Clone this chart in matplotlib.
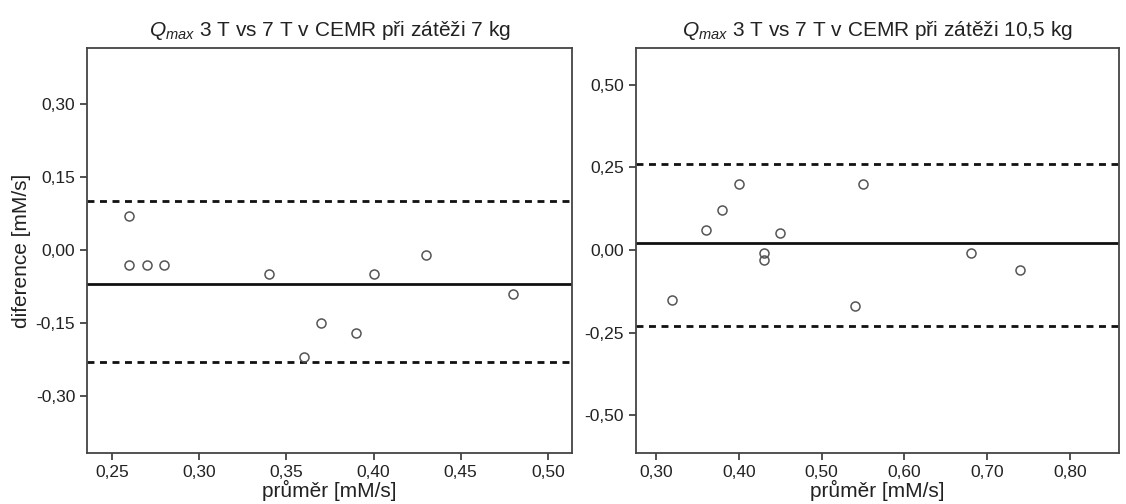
import matplotlib
matplotlib.use("Agg")
import matplotlib.pyplot as plt

plt.rcParams["font.family"] = ["Liberation Sans", "DejaVu Sans"]
plt.rcParams["mathtext.fontset"] = "custom"
plt.rcParams["mathtext.it"] = "Liberation Sans:italic"
plt.rcParams["mathtext.rm"] = "Liberation Sans"

# zátěž 7 kg
prumer_7 = [0.26, 0.26, 0.27, 0.28, 0.34, 0.36, 0.37, 0.39, 0.40, 0.43, 0.48]
diference_7 = [0.07, -0.03, -0.03, -0.03, -0.05, -0.22, -0.15, -0.17, -0.05, -0.01, -0.09]
mean_7 = -0.07
loa_7 = [0.10, -0.23]
xticks_7 = [0.25, 0.30, 0.35, 0.40, 0.45, 0.50]
yticks_7 = [-0.30, -0.15, 0.00, 0.15, 0.30]

# zátěž 10,5 kg
prumer_10 = [0.32, 0.36, 0.38, 0.40, 0.43, 0.43, 0.45, 0.54, 0.55, 0.68, 0.74]
diference_10 = [-0.15, 0.06, 0.12, 0.20, -0.01, -0.03, 0.05, -0.17, 0.20, -0.01, -0.06]
mean_10 = 0.02
loa_10 = [0.26, -0.23]
xticks_10 = [0.30, 0.40, 0.50, 0.60, 0.70, 0.80]
yticks_10 = [-0.50, -0.25, 0.00, 0.25, 0.50]

fig = plt.figure(figsize=(11.26, 5.04), dpi=100)
ax1 = fig.add_axes([87 / 1126, 1 - 453 / 504, (572 - 87) / 1126, (453 - 48) / 504])
ax2 = fig.add_axes([636 / 1126, 1 - 453 / 504, (1119 - 636) / 1126, (453 - 48) / 504])


def fmt(v):
    return f"{v:.2f}".replace(".", ",")


def panel(ax, x, y, mean, loa, xt, yt, xlim, ylim, title):
    ax.plot(x, y, "o", ms=6.5, mfc="none", mec="#555555", mew=1.1, zorder=3)
    ax.axhline(mean, color="#111111", lw=2)
    for v in loa:
        ax.axhline(v, color="#111111", lw=2, ls=(0, (2.5, 2)))
    ax.set_xlim(*xlim)
    ax.set_ylim(*ylim)
    ax.set_xticks(xt)
    ax.set_xticklabels([fmt(v) for v in xt])
    ax.set_yticks(yt)
    ax.set_yticklabels([fmt(v) for v in yt])
    ax.tick_params(axis="both", labelsize=12.5, length=5, width=1.2,
                   color="#333333", labelcolor="#222222", direction="out")
    for s in ax.spines.values():
        s.set_color("#444444")
        s.set_linewidth(1.3)
    ax.set_xlabel("průměr [mM/s]", fontsize=15, color="#222222", labelpad=0)
    ax.set_title(title, fontsize=15, color="#222222", pad=9)


panel(ax1, prumer_7, diference_7, mean_7, loa_7, xticks_7, yticks_7,
      (0.2357, 0.5138), (-0.417, 0.415),
      r"$\mathit{Q}_{\mathit{max}}$ 3 T vs 7 T v CEMR při zátěži 7 kg")
panel(ax2, prumer_10, diference_10, mean_10, loa_10, xticks_10, yticks_10,
      (0.276, 0.859), (-0.614, 0.611),
      r"$\mathit{Q}_{\mathit{max}}$ 3 T vs 7 T v CEMR při zátěži 10,5 kg")
ax1.set_ylabel("diference [mM/s]", fontsize=15, color="#222222", labelpad=3)

fig.savefig("out.png", dpi=100)
